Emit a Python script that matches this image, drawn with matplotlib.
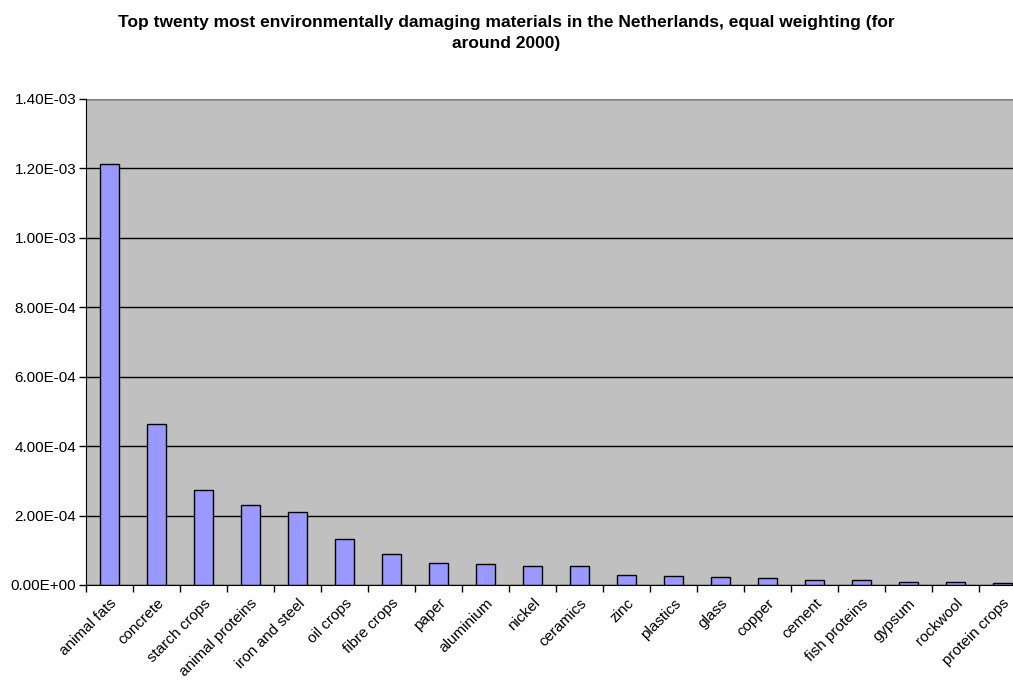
import matplotlib
matplotlib.use("Agg")
import matplotlib.pyplot as plt
from matplotlib.ticker import FuncFormatter, FixedLocator, NullFormatter

materials = [
    "animal fats", "concrete", "starch crops", "animal proteins", "iron and steel",
    "oil crops", "fibre crops", "paper", "aluminium", "nickel",
    "ceramics", "zinc", "plastics", "glass", "copper",
    "cement", "fish proteins", "gypsum", "rockwool", "protein crops",
]
scores = [
    1.213e-3, 4.65e-4, 2.75e-4, 2.31e-4, 2.09e-4,
    1.32e-4, 8.9e-5, 6.4e-5, 6.0e-5, 5.5e-5,
    5.4e-5, 2.8e-5, 2.7e-5, 2.3e-5, 2.1e-5,
    1.4e-5, 1.4e-5, 9e-6, 8e-6, 7e-6,
]
y_ticks = [0, 2e-4, 4e-4, 6e-4, 8e-4, 1.0e-3, 1.2e-3, 1.4e-3]

plt.rcParams["font.family"] = ["Liberation Sans", "DejaVu Sans"]

fig = plt.figure(figsize=(10.13, 6.81), dpi=100)
# plot area runs slightly past the right edge of the figure
ax = fig.add_axes([86 / 1013, 96 / 681, 940 / 1013, 486 / 681])
ax.set_facecolor("#c0c0c0")

x = list(range(len(materials)))
ax.bar(x, scores, width=0.4, color="#9999ff", edgecolor="black", linewidth=1.0, zorder=3)

ax.set_xlim(-0.5, len(materials) - 0.5)
ax.set_ylim(0, 1.4e-3)
ax.set_yticks(y_ticks)
ax.yaxis.set_major_formatter(FuncFormatter(lambda v, p: f"{v:.2E}"))
ax.yaxis.grid(True, color="black", linewidth=1.0, zorder=1)
ax.tick_params(axis="y", direction="out", length=5, width=1, labelsize=11, pad=2)

ax.set_xticks(x)
ax.set_xticklabels(materials, rotation=45, ha="right", rotation_mode="anchor", fontsize=11)
ax.tick_params(axis="x", which="major", length=0, pad=8)
ax.xaxis.set_minor_locator(FixedLocator([i - 0.5 for i in range(len(materials) + 1)]))
ax.xaxis.set_minor_formatter(NullFormatter())
ax.tick_params(axis="x", which="minor", direction="out", length=5, width=1)

for side in ("top", "right"):
    ax.spines[side].set_color("#808080")
for side in ("left", "bottom"):
    ax.spines[side].set_color("black")
    ax.spines[side].set_zorder(4)

fig.text(0.5, 0.978,
         "Top twenty most environmentally damaging materials in the Netherlands, equal weighting (for\naround 2000)",
         ha="center", va="top", fontsize=12.5, fontweight="bold", linespacing=1.5)

plt.savefig("out.png", dpi=100)
plt.close()
